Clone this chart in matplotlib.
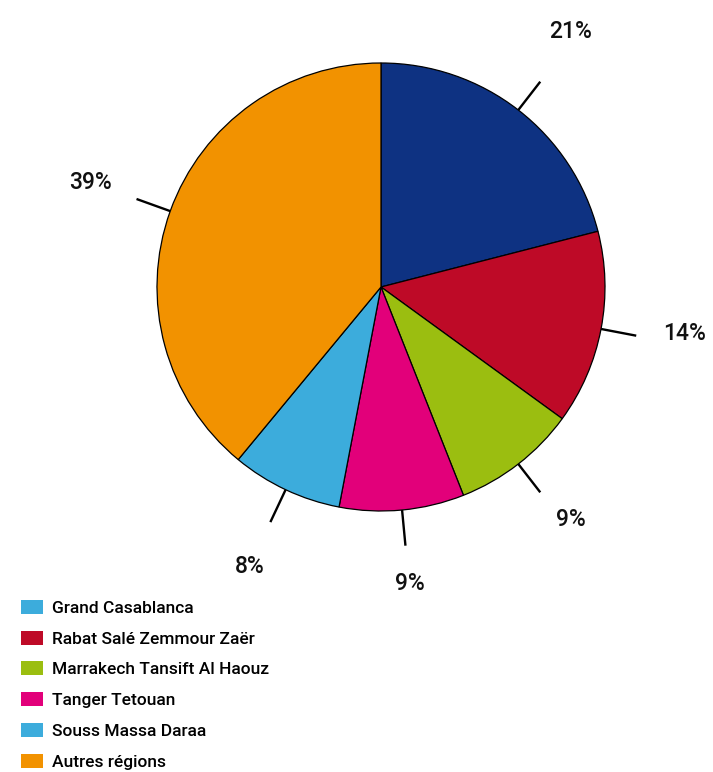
import numpy as np
import matplotlib
matplotlib.use('Agg')
import matplotlib.pyplot as plt
from matplotlib.patches import Patch

plt.rcParams['font.family'] = ['Roboto', 'DejaVu Sans']

regions = ['Grand Casablanca', 'Rabat Salé Zemmour Zaër',
           'Marrakech Tansift Al Haouz', 'Tanger Tetouan',
           'Souss Massa Daraa', 'Autres régions']
shares = [21, 14, 9, 9, 8, 39]
colors = ['#0E3282', '#BE0A27', '#9BBE10', '#E2007A', '#3CACDC', '#F29200']
legend_colors = ['#3CACDC', '#BE0A27', '#9BBE10', '#E2007A', '#3CACDC', '#F29200']

fig = plt.figure(figsize=(7.13, 7.72), dpi=100)
unit = 224  # pie radius in pixels
cx, cy = 381, 287
x0, x1 = -1.7, 1.48
y0, y1 = -1.3, 1.28
ax = fig.add_axes([
    (cx + x0 * unit) / 713,
    1 - (cy - y0 * unit) / 772,
    (x1 - x0) * unit / 713,
    (y1 - y0) * unit / 772])

wedges, _ = ax.pie(
    shares,
    colors=colors,
    startangle=90,
    counterclock=False,
    wedgeprops=dict(edgecolor='black', linewidth=0.9))

for w, val in zip(wedges, shares):
    mid = np.deg2rad((w.theta1 + w.theta2) / 2)
    c, s = np.cos(mid), np.sin(mid)
    ax.plot([c * 1.0, c * 1.16], [s * 1.0, s * 1.16],
            color='black', lw=1.7, solid_capstyle='butt')
    # right-hand labels sit a little higher than the left-hand ones
    va = 'bottom' if c > 0 else 'center'
    ax.text(c * 1.38, s * 1.38, f'{val}%',
            ha='center', va=va, fontsize=16.5,
            fontweight='medium', color='#111111')

ax.set_xlim(x0, x1)
ax.set_ylim(y0, y1)
ax.set_aspect('equal')
ax.axis('off')

handles = [Patch(facecolor=col, edgecolor='none') for col in legend_colors]
fig.legend(
    handles,
    regions,
    loc='upper left',
    bbox_to_anchor=(21 / 713, 1 - 600 / 772),
    frameon=False,
    prop={'size': 12.5, 'weight': 'medium'},
    handlelength=1.27,
    handleheight=0.86,
    handletextpad=0.5,
    labelspacing=0.85,
    borderpad=0,
    borderaxespad=0)

plt.savefig('out.png', dpi=100)
plt.close(fig)
